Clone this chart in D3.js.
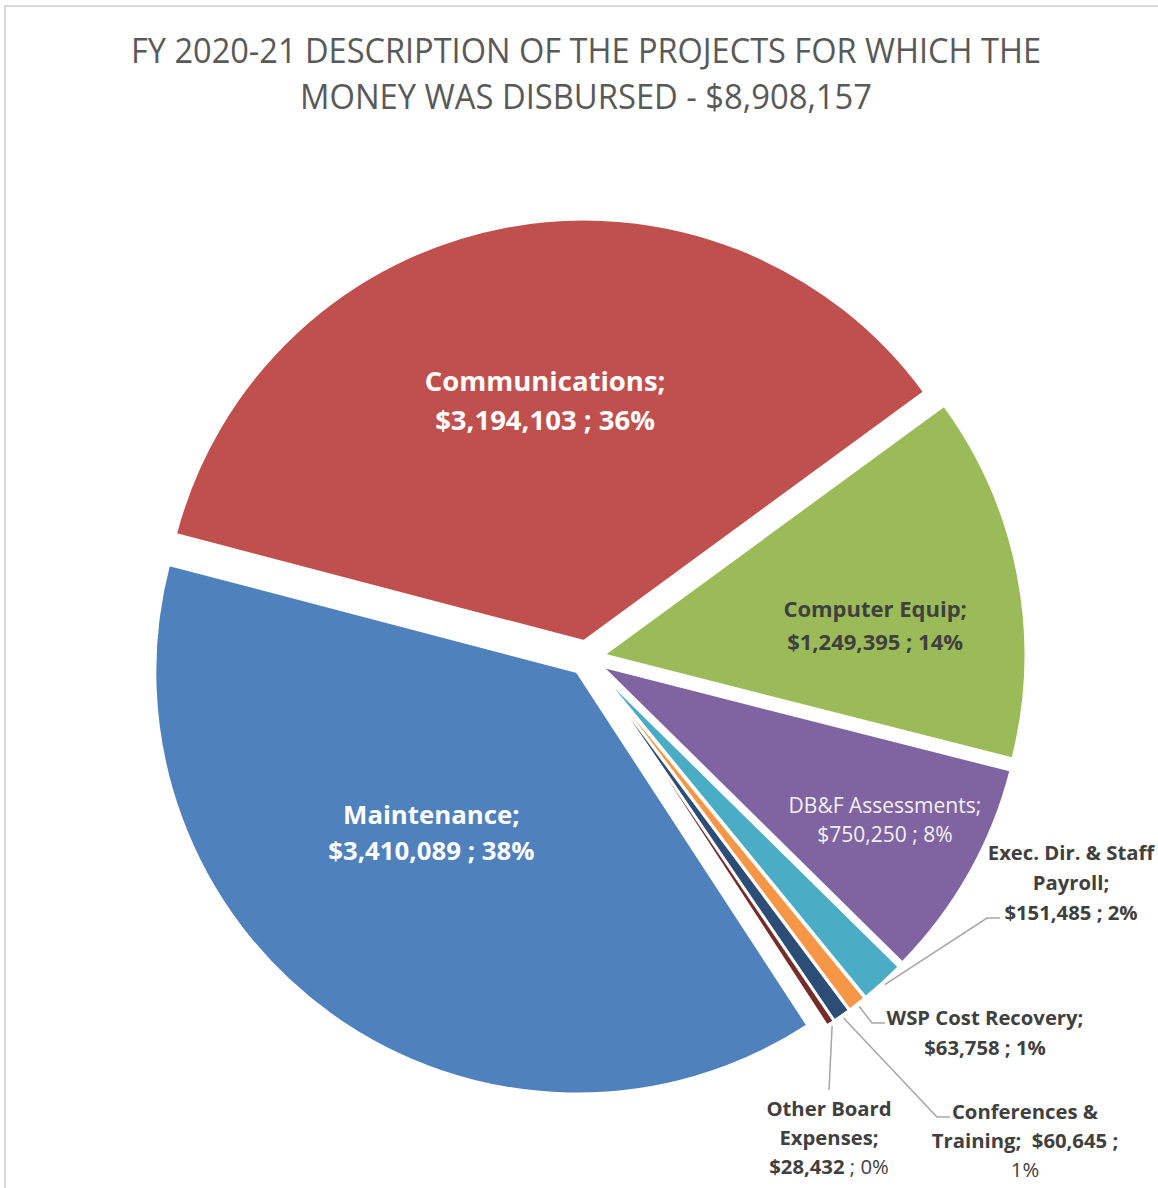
<!DOCTYPE html>
<html>
<head>
<meta charset="utf-8">
<script src="https://cdn.jsdelivr.net/npm/d3@7/dist/d3.min.js"></script>
<style>
	body { margin: 0; background: #fff; }
	text { font-family: 'Open Sans', sans-serif; white-space: pre; }
</style>
</head>
<body>
<svg id="chart"></svg>
<script>
'use strict';

// chart data
var titleLines  = ['FY 2020-21 DESCRIPTION OF THE PROJECTS FOR WHICH THE', 'MONEY WAS DISBURSED - $8,908,157'];
var categories  = ['Communications', 'Computer Equip', 'DB&F Assessments', 'Exec. Dir. & Staff Payroll',
	'WSP Cost Recovery', 'Conferences & Training', 'Other Board Expenses', 'Maintenance'];
var amounts     = [3194103, 1249395, 750250, 151485, 63758, 60645, 28432, 3410089];
var colours     = ['#C0504D', '#9BBB59', '#8064A2', '#4BACC6', '#F79646', '#2C4D75', '#772C2A', '#4F81BD'];
// how each category name wraps in its label
var nameLines   = [['Communications;'], ['Computer Equip;'], ['DB&F Assessments;'], ['Exec. Dir. & Staff', 'Payroll;'],
	['WSP Cost Recovery;'], ['Conferences &', 'Training;  '], ['Other Board', 'Expenses;'], ['Maintenance;']];

var W = 1158, H = 1188;
var cx = 587, cy = 658, R = 422, explode = 17;
var rad = Math.PI / 180;
var start = -75.3 * rad;

var money = d3.format('$,');
var pct   = d3.format('.0%');
var total = d3.sum(amounts);

// label placement: inside labels in polar coords round the pie centre, outside ones with a leader
var layout = [
	{ r: 261, a: -9.25, size: 27.5, lh: 39, fill: '#fff', bold: true },
	{ r: 290, a: 83.5, size: 22, lh: 33, fill: '#404040', bold: true },
	{ r: 339, a: 118.5, size: 21, lh: 29, fill: '#f2f2f2', bold: false },
	{ x: 1071, y: 883, size: 20.3, lh: 30, fill: '#404040', bold: true, elbow: [987, 918], end: [1000, 918] },
	{ x: 985, y: 1033, size: 20.3, lh: 30, fill: '#404040', bold: true, elbow: [872, 1023], end: [885, 1023] },
	{ x: 1025, y: 1141, size: 20.3, lh: 29, fill: '#404040', bold: true, elbow: [937, 1117], end: [950, 1117], split: 'inline' },
	{ x: 829, y: 1138, size: 20.3, lh: 29, fill: '#404040', bold: true, elbow: [829, 1090], end: null, split: 'mixed' },
	{ r: 234, a: 221.7, size: 25.8, lh: 36, fill: '#fff', bold: true }
];

var svg = d3.select('#chart')
	.attr('width', W)
	.attr('height', H);

// frame of the chart area
svg.append('path')
	.attr('d', 'M5,' + H + 'V6H' + W)
	.attr('fill', 'none')
	.attr('stroke', '#d9d9d9')
	.attr('stroke-width', 2);

titleLines.forEach(function (t, i) {
	svg.append('text')
		.attr('x', 586)
		.attr('y', 63 + i * 46)
		.attr('text-anchor', 'middle')
		.attr('fill', '#595959')
		.style('font-size', '34px')
		.attr('textLength', i === 0 ? 910 : 572)
		.attr('lengthAdjust', 'spacingAndGlyphs')
		.text(t);
});

var pie = d3.pie()
	.sort(null)
	.value(function (d) { return d; })
	.startAngle(start)
	.endAngle(start + 2 * Math.PI);

var arc = d3.arc()
	.innerRadius(0)
	.outerRadius(R);

function mid(d) { return (d.startAngle + d.endAngle) / 2; }
function polar(a, r) { return [Math.sin(a) * r, -Math.cos(a) * r]; }

var arcs = pie(amounts);

var g = svg.append('g')
	.attr('transform', 'translate(' + cx + ',' + cy + ')');

g.selectAll('path.slice')
	.data(arcs)
	.enter().append('path')
	.attr('class', 'slice')
	.attr('transform', function (d) { return 'translate(' + polar(mid(d), explode) + ')'; })
	.attr('d', arc)
	.attr('fill', function (d, i) { return colours[i]; })
	.attr('stroke', '#fff')
	.attr('stroke-width', 2.5)
	.attr('stroke-linejoin', 'round');

function labelLines(i) {
	var L = layout[i];
	var v = money(amounts[i]);
	var p = pct(amounts[i] / total);
	var names = nameLines[i].map(function (n) { return [[n, L.bold]]; });

	if (L.split === 'inline') {
		names[names.length - 1].push([v + ' ;', true]);
		names.push([[p, false]]);
	} else if (L.split === 'mixed') {
		names.push([[v, true], [' ; ' + p, false]]);
	} else {
		names.push([[v + ' ; ' + p, L.bold]]);
	}

	return names;
}

function drawLabel(x, y, lines, L) {
	var t = svg.append('text')
		.attr('text-anchor', 'middle')
		.attr('fill', L.fill)
		.style('font-size', L.size + 'px');
	var n = lines.length;

	lines.forEach(function (line, k) {
		var yy = y + (k - (n - 1) / 2) * L.lh + 0.36 * L.size;

		line.forEach(function (seg, j) {
			var ts = t.append('tspan')
				.style('font-weight', seg[1] ? '700' : '400')
				.text(seg[0]);

			if (j === 0) {
				ts.attr('x', x).attr('y', yy);
			}
		});
	});
}

arcs.forEach(function (d, i) {
	var L = layout[i];

	if (L.r) {
		var p = polar(L.a * rad, L.r);
		drawLabel(cx + p[0], cy + p[1], labelLines(i), L);
		return;
	}

	// leader from the exploded slice edge to the label
	var s = polar(mid(d), R + explode + 3);
	var pts = [[cx + s[0], cy + s[1]], L.elbow];
	if (L.end) pts.push(L.end);

	svg.append('path')
		.attr('d', d3.line()(pts))
		.attr('fill', 'none')
		.attr('stroke', '#a6a6a6')
		.attr('stroke-width', 1.5);

	drawLabel(L.x, L.y, labelLines(i), L);
});
</script>
</body>
</html>
